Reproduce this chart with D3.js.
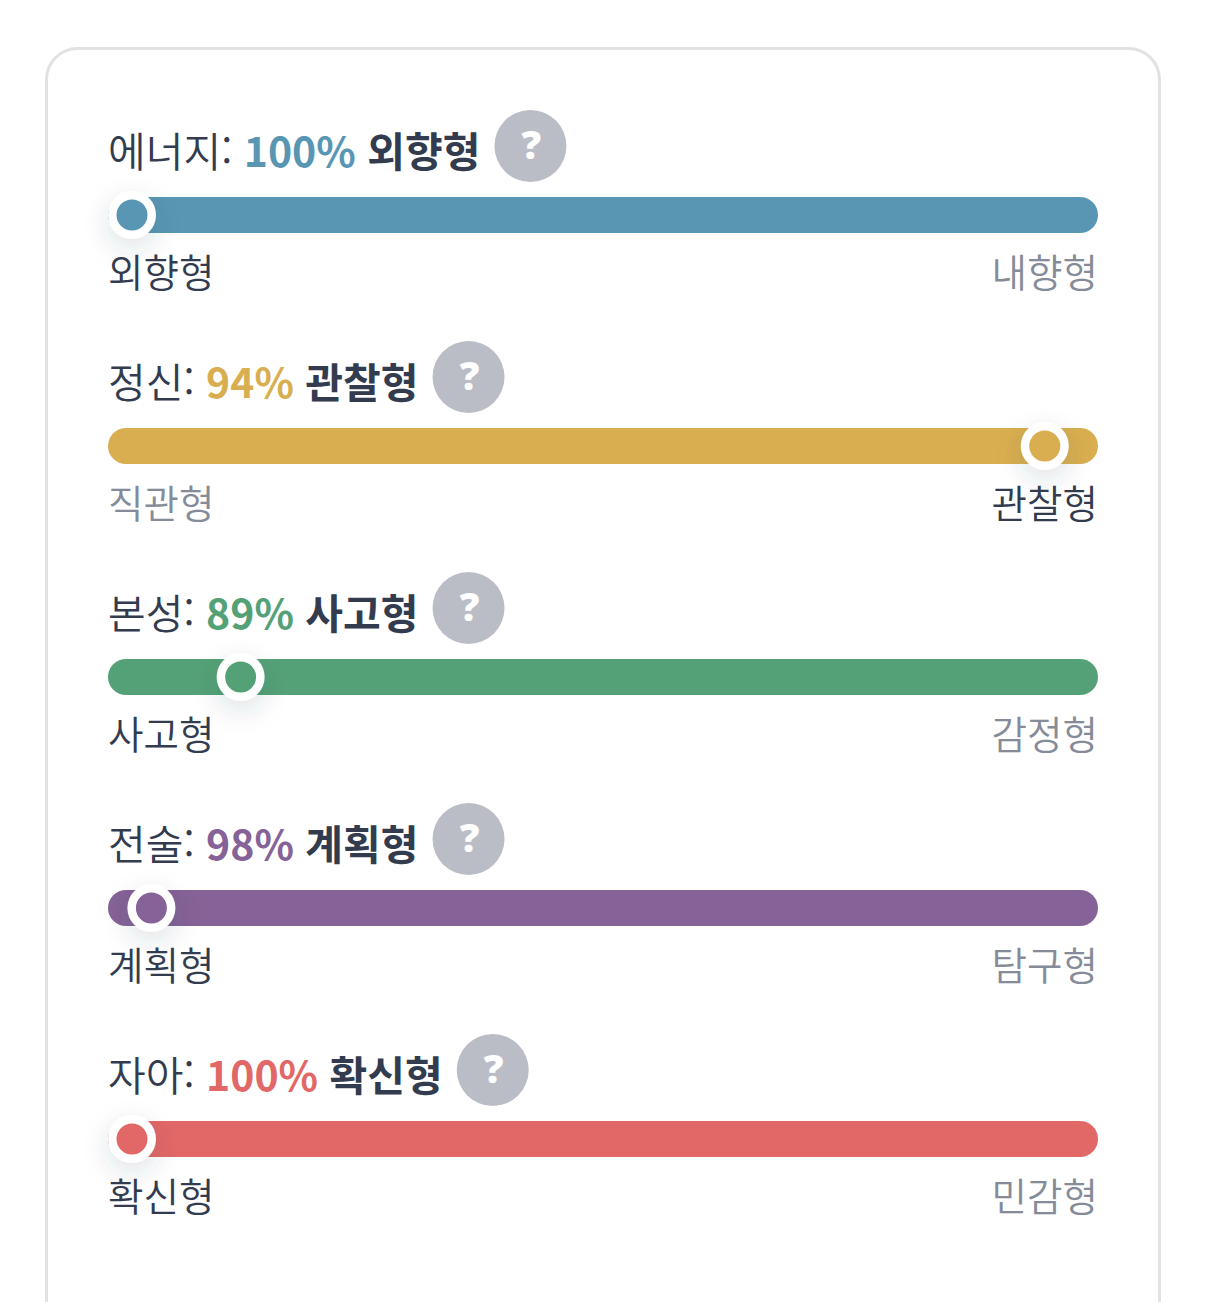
<!DOCTYPE html>
<html lang="ko">
<head>
<meta charset="utf-8">
<script src="https://cdn.jsdelivr.net/npm/d3@7/dist/d3.min.js"></script>
<style>
html,body{margin:0;padding:0;background:#fff;overflow:hidden}
svg{display:block}
text{font-family:"Noto Sans CJK KR","Noto Sans",sans-serif}
</style>
</head>
<body>
<script>
const traits = ["에너지", "정신", "본성", "전술", "자아"];
const percents = [100, 94, 89, 98, 100];
const winners = ["외향형", "관찰형", "사고형", "계획형", "확신형"];
const leftLabels = ["외향형", "직관형", "사고형", "계획형", "확신형"];
const rightLabels = ["내향형", "관찰형", "감정형", "탐구형", "민감형"];
const winnerSide = ["left", "right", "left", "left", "left"];
const knobPositions = [0, 94.1, 11.2, 2, 0];
const colors = ["#5996b3", "#d9ae50", "#55a177", "#856297", "#e16867"];

const W = 1206, H = 1302;
const dark = "#333c4f", muted = "#858b98";
const svg = d3.select("body").append("svg").attr("width", W).attr("height", H);

const defs = svg.append("defs");
const f = defs.append("filter").attr("id", "knobShadow")
  .attr("x", "-150%").attr("y", "-150%").attr("width", "400%").attr("height", "400%");
f.append("feDropShadow").attr("dx", 0).attr("dy", 9).attr("stdDeviation", 13)
  .attr("flood-color", "#333c4f").attr("flood-opacity", 0.15);

svg.append("rect").attr("x", 46.5).attr("y", 48.5).attr("width", 1113).attr("height", 1320)
  .attr("rx", 31).attr("fill", "#fff").attr("stroke", "#e1e2e4").attr("stroke-width", 3);

const y = d3.scalePoint().domain(traits).range([215, 1139]);
const x = d3.scaleLinear().domain([0, 100]).range([132, 1102]);
const barX = 108, barW = 990, barH = 36;

const rows = svg.selectAll("g.row").data(traits).join("g").attr("class", "row")
  .attr("transform", d => `translate(0,${y(d)})`);

rows.each(function (t, i) {
  const g = d3.select(this);
  const title = g.append("text").attr("x", barX).attr("y", -48.5)
    .attr("font-size", 41).attr("fill", dark);
  title.append("tspan").attr("font-weight", 350).text(t + ": ");
  title.append("tspan").attr("font-weight", 700).attr("fill", colors[i]).text(percents[i] + "% ");
  title.append("tspan").attr("font-weight", 700).text(winners[i]);

  const hx = barX + title.node().getComputedTextLength() + 50;
  g.append("circle").attr("cx", hx).attr("cy", -69).attr("r", 36).attr("fill", "#babdc5");
  g.append("text").attr("x", hx + 1).attr("y", -56).attr("text-anchor", "middle")
    .style("font-family", '"Noto Sans",sans-serif')
    .attr("font-size", 39).attr("font-weight", 900).attr("fill", "#fff").text("?");

  g.append("rect").attr("x", barX).attr("y", -barH / 2).attr("width", barW).attr("height", barH)
    .attr("rx", 18).attr("fill", colors[i]);

  const kx = x(knobPositions[i]);
  g.append("circle").attr("cx", kx).attr("cy", 0).attr("r", 24).attr("fill", "#fff")
    .attr("filter", "url(#knobShadow)");
  g.append("circle").attr("cx", kx).attr("cy", 0).attr("r", 15.5).attr("fill", colors[i]);

  g.append("text").attr("x", barX).attr("y", 71.5).attr("font-size", 38.6)
    .attr("font-weight", 350)
    .attr("fill", winnerSide[i] === "left" ? dark : muted).text(leftLabels[i]);
  g.append("text").attr("x", barX + barW).attr("y", 71.5).attr("text-anchor", "end").attr("font-size", 38.6)
    .attr("font-weight", 350)
    .attr("fill", winnerSide[i] === "right" ? dark : muted).text(rightLabels[i]);
});
</script>
</body>
</html>
